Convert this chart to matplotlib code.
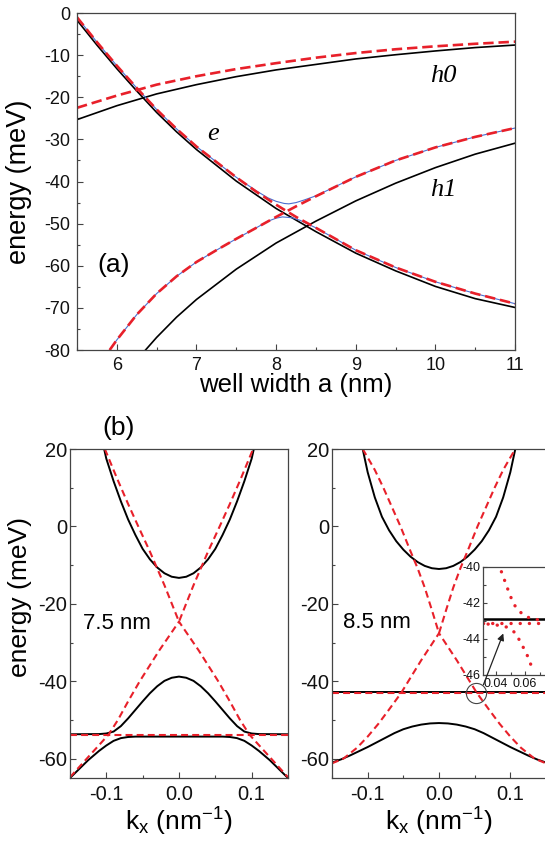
import matplotlib
matplotlib.use("Agg")
import matplotlib.pyplot as plt
import numpy as np
from matplotlib.ticker import MultipleLocator

# ---- panel (a): levels vs well width ----
well_h0 = [5.5, 6.0, 6.5, 7.0, 7.5, 8.0, 8.5, 9.0, 9.5, 10.0, 10.5, 11.0]
h0_black = [-25.3, -22.0, -19.2, -17.0, -15.1, -13.5, -12.2, -10.9, -9.9, -9.0, -8.2, -7.6]
h0_red = [-22.5, -19.6, -17.0, -15.0, -13.3, -11.9, -10.6, -9.5, -8.6, -7.9, -7.3, -6.8]

well_e = [5.5, 5.75, 6.0, 6.25, 6.5, 6.75, 7.0, 7.5, 8.0, 8.5, 9.0, 9.5, 10.0, 10.5, 11.0]
e_black = [-1.7, -7.6, -13.2, -18.5, -23.6, -28.2, -32.4, -39.9, -46.4, -51.9, -57.0, -61.2, -64.9, -67.8, -69.9]

well_h1 = [6.36, 6.5, 6.75, 7.0, 7.5, 8.0, 8.5, 9.0, 9.5, 10.0, 10.5, 11.0]
h1_black = [-80.0, -77.0, -72.2, -68.0, -60.8, -54.6, -49.4, -44.6, -40.4, -36.7, -33.5, -30.9]

well_re = [5.5, 5.75, 6.0, 6.25, 6.5, 6.75, 7.0, 7.5, 7.75, 8.0, 8.25, 8.5, 9.0, 9.5, 10.0, 10.5, 11.0]
red_e = [-1.0, -6.9, -12.5, -17.8, -22.9, -27.5, -31.7, -39.0, -42.4, -45.5, -48.4, -51.0, -56.3, -60.4, -63.8, -66.6, -69.0]

well_rh = [5.91, 6.0, 6.25, 6.5, 6.75, 7.0, 7.25, 7.5, 7.75, 8.0, 8.25, 8.5, 9.0, 9.5, 10.0, 10.5, 11.0]
red_h1 = [-80.0, -77.6, -71.6, -66.6, -62.5, -59.1, -56.3, -53.6, -51.0, -48.4, -45.9, -43.5, -38.9, -35.0, -31.9, -29.4, -27.3]

well_bu = [5.5, 5.75, 6.0, 6.25, 6.5, 6.75, 7.0, 7.5, 7.75, 7.9, 8.0, 8.1, 8.16, 8.25, 8.35, 8.5, 9.0, 9.5, 10.0, 10.5, 11.0]
blue_up = [-1.0, -6.9, -12.5, -17.8, -22.9, -27.5, -31.7, -39.0, -42.2, -43.9, -44.7, -45.2, -45.3, -45.0, -44.4, -43.4, -38.9, -35.0, -31.9, -29.4, -27.3]

well_bl = [5.91, 6.0, 6.25, 6.5, 6.75, 7.0, 7.25, 7.5, 7.75, 7.9, 8.0, 8.08, 8.2, 8.3, 8.4, 8.5, 9.0, 9.5, 10.0, 10.5, 11.0]
blue_low = [-80.0, -77.6, -71.6, -66.6, -62.5, -59.1, -56.3, -53.6, -51.0, -49.4, -48.7, -48.4, -48.6, -49.2, -50.1, -51.0, -56.3, -60.4, -63.8, -66.6, -69.0]

# ---- panel (b): dispersions, half branches (k >= 0), mirrored ----
k75_cb = [0.0, 0.01, 0.02, 0.03, 0.04, 0.05, 0.06, 0.07, 0.08, 0.09, 0.1, 0.103]
E75_cb = [-13.3, -13.0, -12.1, -10.6, -8.5, -5.8, -2.2, 1.8, 6.5, 11.7, 17.5, 20.0]
k75_vb = [0.0, 0.01, 0.02, 0.03, 0.04, 0.05, 0.06, 0.07, 0.08, 0.09, 0.1, 0.11, 0.15]
E75_vb = [-38.8, -39.1, -39.9, -41.3, -43.1, -45.2, -47.4, -49.6, -51.6, -53.0, -53.5, -53.65, -53.7]
k75_lb = [0.0, 0.06, 0.07, 0.08, 0.09, 0.1, 0.11, 0.125, 0.15]
E75_lb = [-54.3, -54.3, -54.4, -54.7, -55.4, -56.6, -58.0, -60.4, -65.0]
k75_rup = [0.0, 0.02, 0.04, 0.056, 0.07, 0.085, 0.102]
E75_rup = [-24.6, -15.2, -6.5, 0.0, 5.8, 12.3, 20.0]
k75_rdn = [0.0, 0.027, 0.054, 0.07, 0.084, 0.097, 0.11, 0.125, 0.15]
E75_rdn = [-24.6, -32.0, -40.0, -45.2, -50.0, -53.8, -56.5, -59.6, -64.8]
E75_rflat = -53.8

k85_cb = [0.0, 0.01, 0.02, 0.03, 0.04, 0.05, 0.06, 0.07, 0.08, 0.09, 0.1, 0.107]
E85_cb = [-11.0, -10.8, -10.2, -9.2, -7.8, -6.0, -3.8, -1.0, 2.5, 7.5, 14.0, 20.0]
k85_vb = [0.0, 0.0125, 0.025, 0.0375, 0.05, 0.0625, 0.075, 0.0875, 0.1, 0.1125, 0.125, 0.1375, 0.15]
E85_vb = [-50.8, -50.9, -51.2, -51.7, -52.4, -53.4, -54.6, -55.8, -57.0, -58.1, -59.2, -60.2, -61.0]
k85_rup = [0.0, 0.01, 0.02, 0.03, 0.04, 0.054, 0.066, 0.078, 0.09, 0.1, 0.107]
E85_rup = [-27.6, -21.6, -15.8, -10.8, -6.4, 0.0, 5.0, 10.0, 14.6, 17.8, 20.0]
k85_rdn = [0.0, 0.025, 0.045, 0.053, 0.07, 0.085, 0.1, 0.115, 0.134, 0.15]
E85_rdn = [-27.6, -34.6, -40.6, -43.0, -47.3, -51.0, -54.3, -57.2, -60.0, -61.2]
E85_flat_black = -42.9
E85_flat_red = -43.1

# inset (zoom of the anticrossing at 8.5 nm)
ins_k_up = [0.0437, 0.046, 0.0483, 0.0508, 0.054, 0.0598, 0.0662, 0.0724, 0.08]
ins_E_up = [-40.28, -40.78, -41.29, -41.81, -42.31, -42.74, -42.92, -42.96, -42.98]
ins_k_low = [0.0345, 0.0409, 0.0476, 0.0536, 0.0568, 0.0602, 0.0628, 0.065]
ins_E_low = [-43.18, -43.24, -43.35, -43.68, -44.18, -44.68, -45.14, -45.67]

RED = "#e8202a"
BLUE = "#4a6fd0"
SPINE = "#444444"

plt.rcParams["font.family"] = ["Liberation Sans", "DejaVu Sans"]
plt.rcParams["mathtext.default"] = "regular"
plt.rcParams["axes.unicode_minus"] = False
plt.rcParams["lines.scale_dashes"] = False


def style_axes(ax, size, pad_x, pad_y):
    for s in ax.spines.values():
        s.set_color(SPINE)
        s.set_linewidth(0.9)
    ax.tick_params(which="both", direction="in", colors=SPINE, labelcolor="#111111", labelsize=size)
    ax.tick_params(which="major", length=4.5, width=0.8)
    ax.tick_params(which="minor", length=2.5, width=0.8)
    ax.tick_params(axis="x", pad=pad_x)
    ax.tick_params(axis="y", pad=pad_y)


def mirror(k, e):
    k = np.asarray(k)
    e = np.asarray(e)
    return np.concatenate([-k[::-1], k[1:]]), np.concatenate([e[::-1], e[1:]])


fig = plt.figure(figsize=(5.45, 8.41), dpi=100)

# ---- (a) ----
ax = fig.add_axes([0.1413, 0.5838, 0.8037, 0.4007])
ax.plot(well_h0, h0_black, color="black", lw=1.2)
ax.plot(well_e, e_black, color="black", lw=1.2)
ax.plot(well_h1, h1_black, color="black", lw=1.2)
ax.plot(well_bu, blue_up, color=BLUE, lw=0.8)
ax.plot(well_bl, blue_low, color=BLUE, lw=0.8)
for x, y in [(well_h0, h0_red), (well_re, red_e), (well_rh, red_h1)]:
    ax.plot(x, y, color=RED, lw=1.9, dashes=(7.5, 3.5))
ax.set_xlim(5.5, 11)
ax.set_ylim(-80, 0)
ax.xaxis.set_major_locator(MultipleLocator(1))
ax.xaxis.set_minor_locator(MultipleLocator(0.5))
ax.yaxis.set_major_locator(MultipleLocator(10))
ax.yaxis.set_minor_locator(MultipleLocator(5))
style_axes(ax, 13, 5, 5)
ax.set_xlabel("well width a (nm)", fontsize=18.5)
ax.set_ylabel("energy (meV)", fontsize=19.5)
ax.xaxis.set_label_coords(0.5, -0.068)
ax.yaxis.set_label_coords(-0.103, 0.5)
lab = dict(family=["Liberation Serif", "DejaVu Serif"], style="italic", fontsize=19,
           ha="center", va="center")
ax.text(10.1, -15.0, "h0", **lab)
ax.text(10.1, -42.1, "h1", **lab)
ax.text(7.21, -28.6, "e", **lab)
ax.text(5.965, -59.8, "(a)", fontsize=19, ha="center", va="center")

fig.text(119 / 545, 1 - 428 / 841, "(b)", fontsize=19, ha="center", va="center")


def panel_b(rect, label, label_xy, curves, reds, ylabel):
    axb = fig.add_axes(rect)
    for k, e in curves:
        axb.plot(k, e, color="black", lw=1.4)
    for k, e in reds:
        axb.plot(k, e, color=RED, lw=1.5, dashes=(5, 3))
    axb.set_xlim(-0.15, 0.15)
    axb.set_ylim(-65, 20)
    axb.xaxis.set_major_locator(MultipleLocator(0.1))
    axb.xaxis.set_minor_locator(MultipleLocator(0.05))
    axb.yaxis.set_major_locator(MultipleLocator(20))
    axb.yaxis.set_minor_locator(MultipleLocator(10))
    axb.set_xticks([-0.1, 0.0, 0.1], ["-0.1", "0.0", "0.1"])
    style_axes(axb, 14.5, 5, 2)
    axb.set_xlabel(r"k$_{\mathregular{x}}$ (nm$^{\mathregular{-1}}$)", fontsize=19)
    axb.xaxis.set_label_coords(0.5, -0.085)
    if ylabel:
        axb.set_ylabel("energy (meV)", fontsize=19)
        axb.yaxis.set_label_coords(-0.174, 0.549)
    axb.text(label_xy[0], label_xy[1], label, fontsize=16, ha="left", va="center")
    return axb


kk = [-0.15, 0.15]
axl = panel_b([0.1284, 0.0749, 0.4, 0.3912], "7.5 nm", (-0.132, -25.2),
              [mirror(k75_cb, E75_cb), mirror(k75_vb, E75_vb), mirror(k75_lb, E75_lb)],
              [mirror(k75_rup, E75_rup), mirror(k75_rdn, E75_rdn), (kk, [E75_rflat] * 2)],
              True)

axr = panel_b([0.6092, 0.0749, 0.3926, 0.3912], "8.5 nm", (-0.1346, -24.8),
              [mirror(k85_cb, E85_cb), mirror(k85_vb, E85_vb), (kk, [E85_flat_black] * 2)],
              [mirror(k85_rup, E85_rup), mirror(k85_rdn, E85_rdn), (kk, [E85_flat_red] * 2)],
              False)
axr.plot([0.052], [-43.0], marker="o", ms=14.5, mfc="none", mec=SPINE, mew=0.8)

# ---- inset ----
axi = fig.add_axes([483 / 545, 0.1974, 0.1303, 0.1288])
axi.plot([0.031, 0.08], [E85_flat_black] * 2, color="black", lw=1.8)
dots = dict(color=RED, lw=2.4, dashes=(0.1, 6.5), dash_capstyle="round")
axi.plot([0.031, 0.08], [E85_flat_red] * 2, **dots)
axi.plot(ins_k_up, ins_E_up, **dots)
axi.plot(ins_k_low, ins_E_low, **dots)
axi.set_xlim(0.031, 0.08)
axi.set_ylim(-46, -40)
axi.set_xticks([0.04, 0.06], ["0.04", "0.06"])
axi.xaxis.set_minor_locator(MultipleLocator(0.01))
axi.yaxis.set_minor_locator(MultipleLocator(1))
axi.set_yticks([-46, -44, -42, -40], ["-46", "-44", "-42", "-40"])
style_axes(axi, 9, 2, 1.5)
axi.tick_params(which="major", length=3)
axi.tick_params(which="minor", length=2)
axi.annotate("", xy=(0.045, -43.7), xycoords="data",
             xytext=(0.0623, -40.9), textcoords=axr.transData,
             arrowprops=dict(arrowstyle="-|>", color="#222222", lw=0.9,
                             mutation_scale=10, shrinkA=0, shrinkB=0),
             annotation_clip=False)

fig.savefig("out.png", dpi=100)
